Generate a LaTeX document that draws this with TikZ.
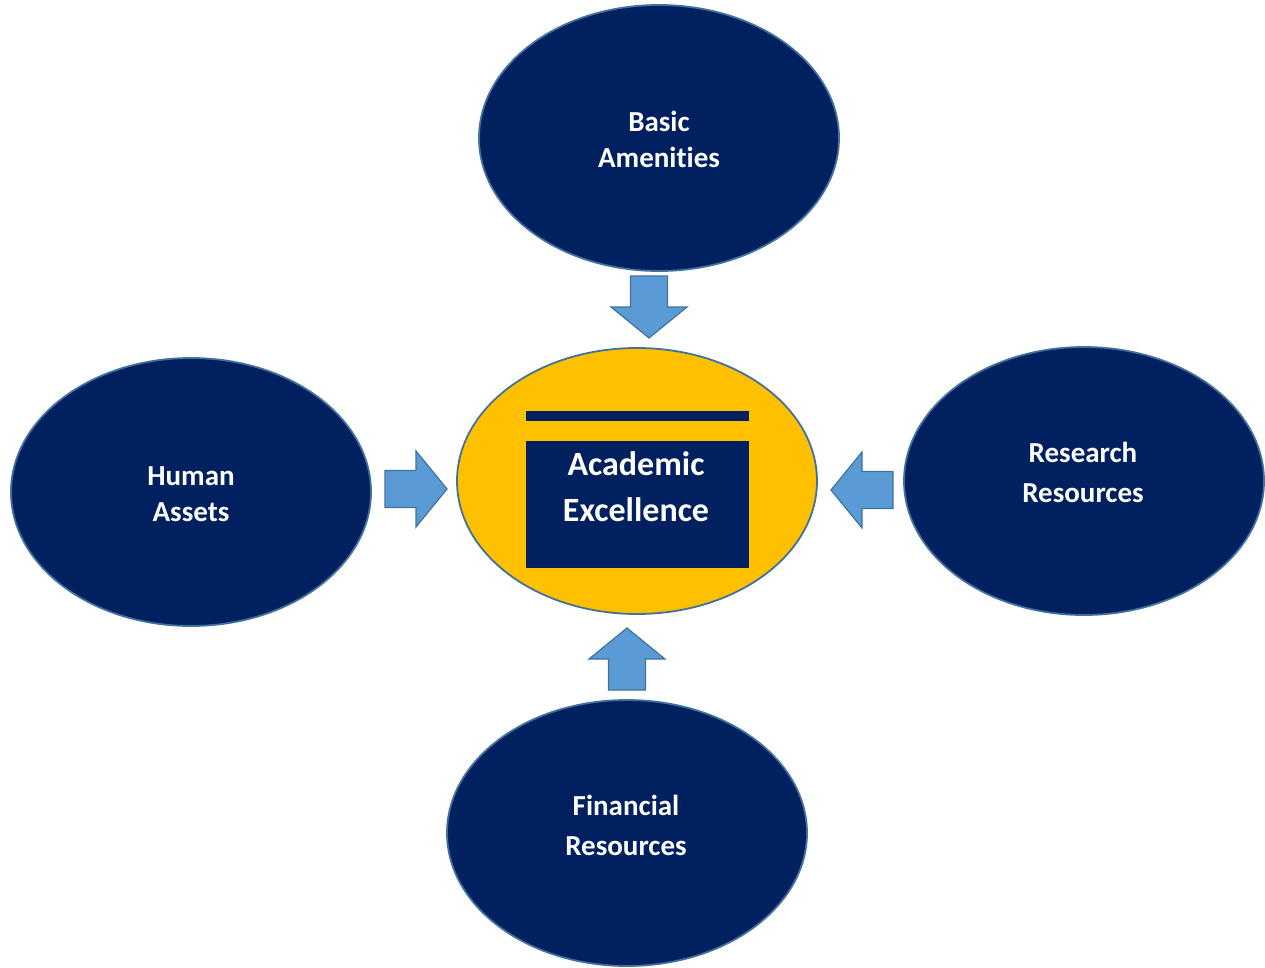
\documentclass[tikz,border=0pt]{standalone}
\usepackage{fontspec}
\setmainfont{Carlito}[Ligatures={NoCommon}]
\usetikzlibrary{shapes.geometric}
\begin{document}
\definecolor{navy}{HTML}{002060}
\definecolor{gold}{HTML}{FFC000}
\definecolor{arrowfill}{HTML}{5B9BD5}
\definecolor{edgeblue}{HTML}{41719C}
\begin{tikzpicture}[x=1pt,y=-1pt,
  pillar/.style={ellipse, draw=edgeblue, line width=1.8pt, fill=navy,
    minimum width=360pt, minimum height=266pt, inner sep=0pt},
  hub/.style={pillar, fill=gold},
  lbl/.style={text=white, font=\bfseries\fontsize{29}{36}\selectfont, align=center},
  blockarrow/.style={fill=arrowfill, draw=edgeblue, line width=1.2pt, line join=miter},
  pics/bigarrow/.style={code={
    \path[blockarrow] (0,-18.5) -- (31,-18.5) -- (31,-38) -- (62,0)
      -- (31,38) -- (31,18.5) -- (0,18.5) -- cycle;}}]
\useasboundingbox (0,0) rectangle (1265,968);

% surrounding resources and the central goal
\node[pillar] (basic) at (659,138) {};
\node[pillar, minimum height=268pt] (human) at (191,492) {};
\node[pillar, minimum height=268pt] (research) at (1084,481) {};
\node[pillar] (finance) at (627,833) {};
\node[hub] (hub) at (637,481) {};

% title bar and text panel inside the central ellipse
\fill[navy] (526,411) rectangle (749,421);
\fill[navy] (526,441) rectangle (749,568);

\node[lbl] (tbasic) at (659,139) {Basic\\Amenities};
\node[lbl] (thuman) at (191,494) {Human\\Assets};
\node[lbl, font=\bfseries\fontsize{29}{40}\selectfont] (tresearch) at (1083,472) {Research\\Resources};
\node[lbl, font=\bfseries\fontsize{29}{40}\selectfont] (tfinance) at (626,825) {Financial\\Resources};
\node[lbl, font=\bfseries\fontsize{34}{46}\selectfont] (thub) at (636,487) {Academic\\Excellence};

% block arrows pointing inwards
\coordinate (abasic) at (649,276);
\coordinate (ahuman) at (385,489);
\coordinate (aresearch) at (893,490);
\coordinate (afinance) at (627,690);
\pic[rotate=-90] at (abasic) {bigarrow};
\pic at (ahuman) {bigarrow};
\pic[rotate=180] at (aresearch) {bigarrow};
\pic[rotate=90] at (afinance) {bigarrow};
\end{tikzpicture}
\end{document}
